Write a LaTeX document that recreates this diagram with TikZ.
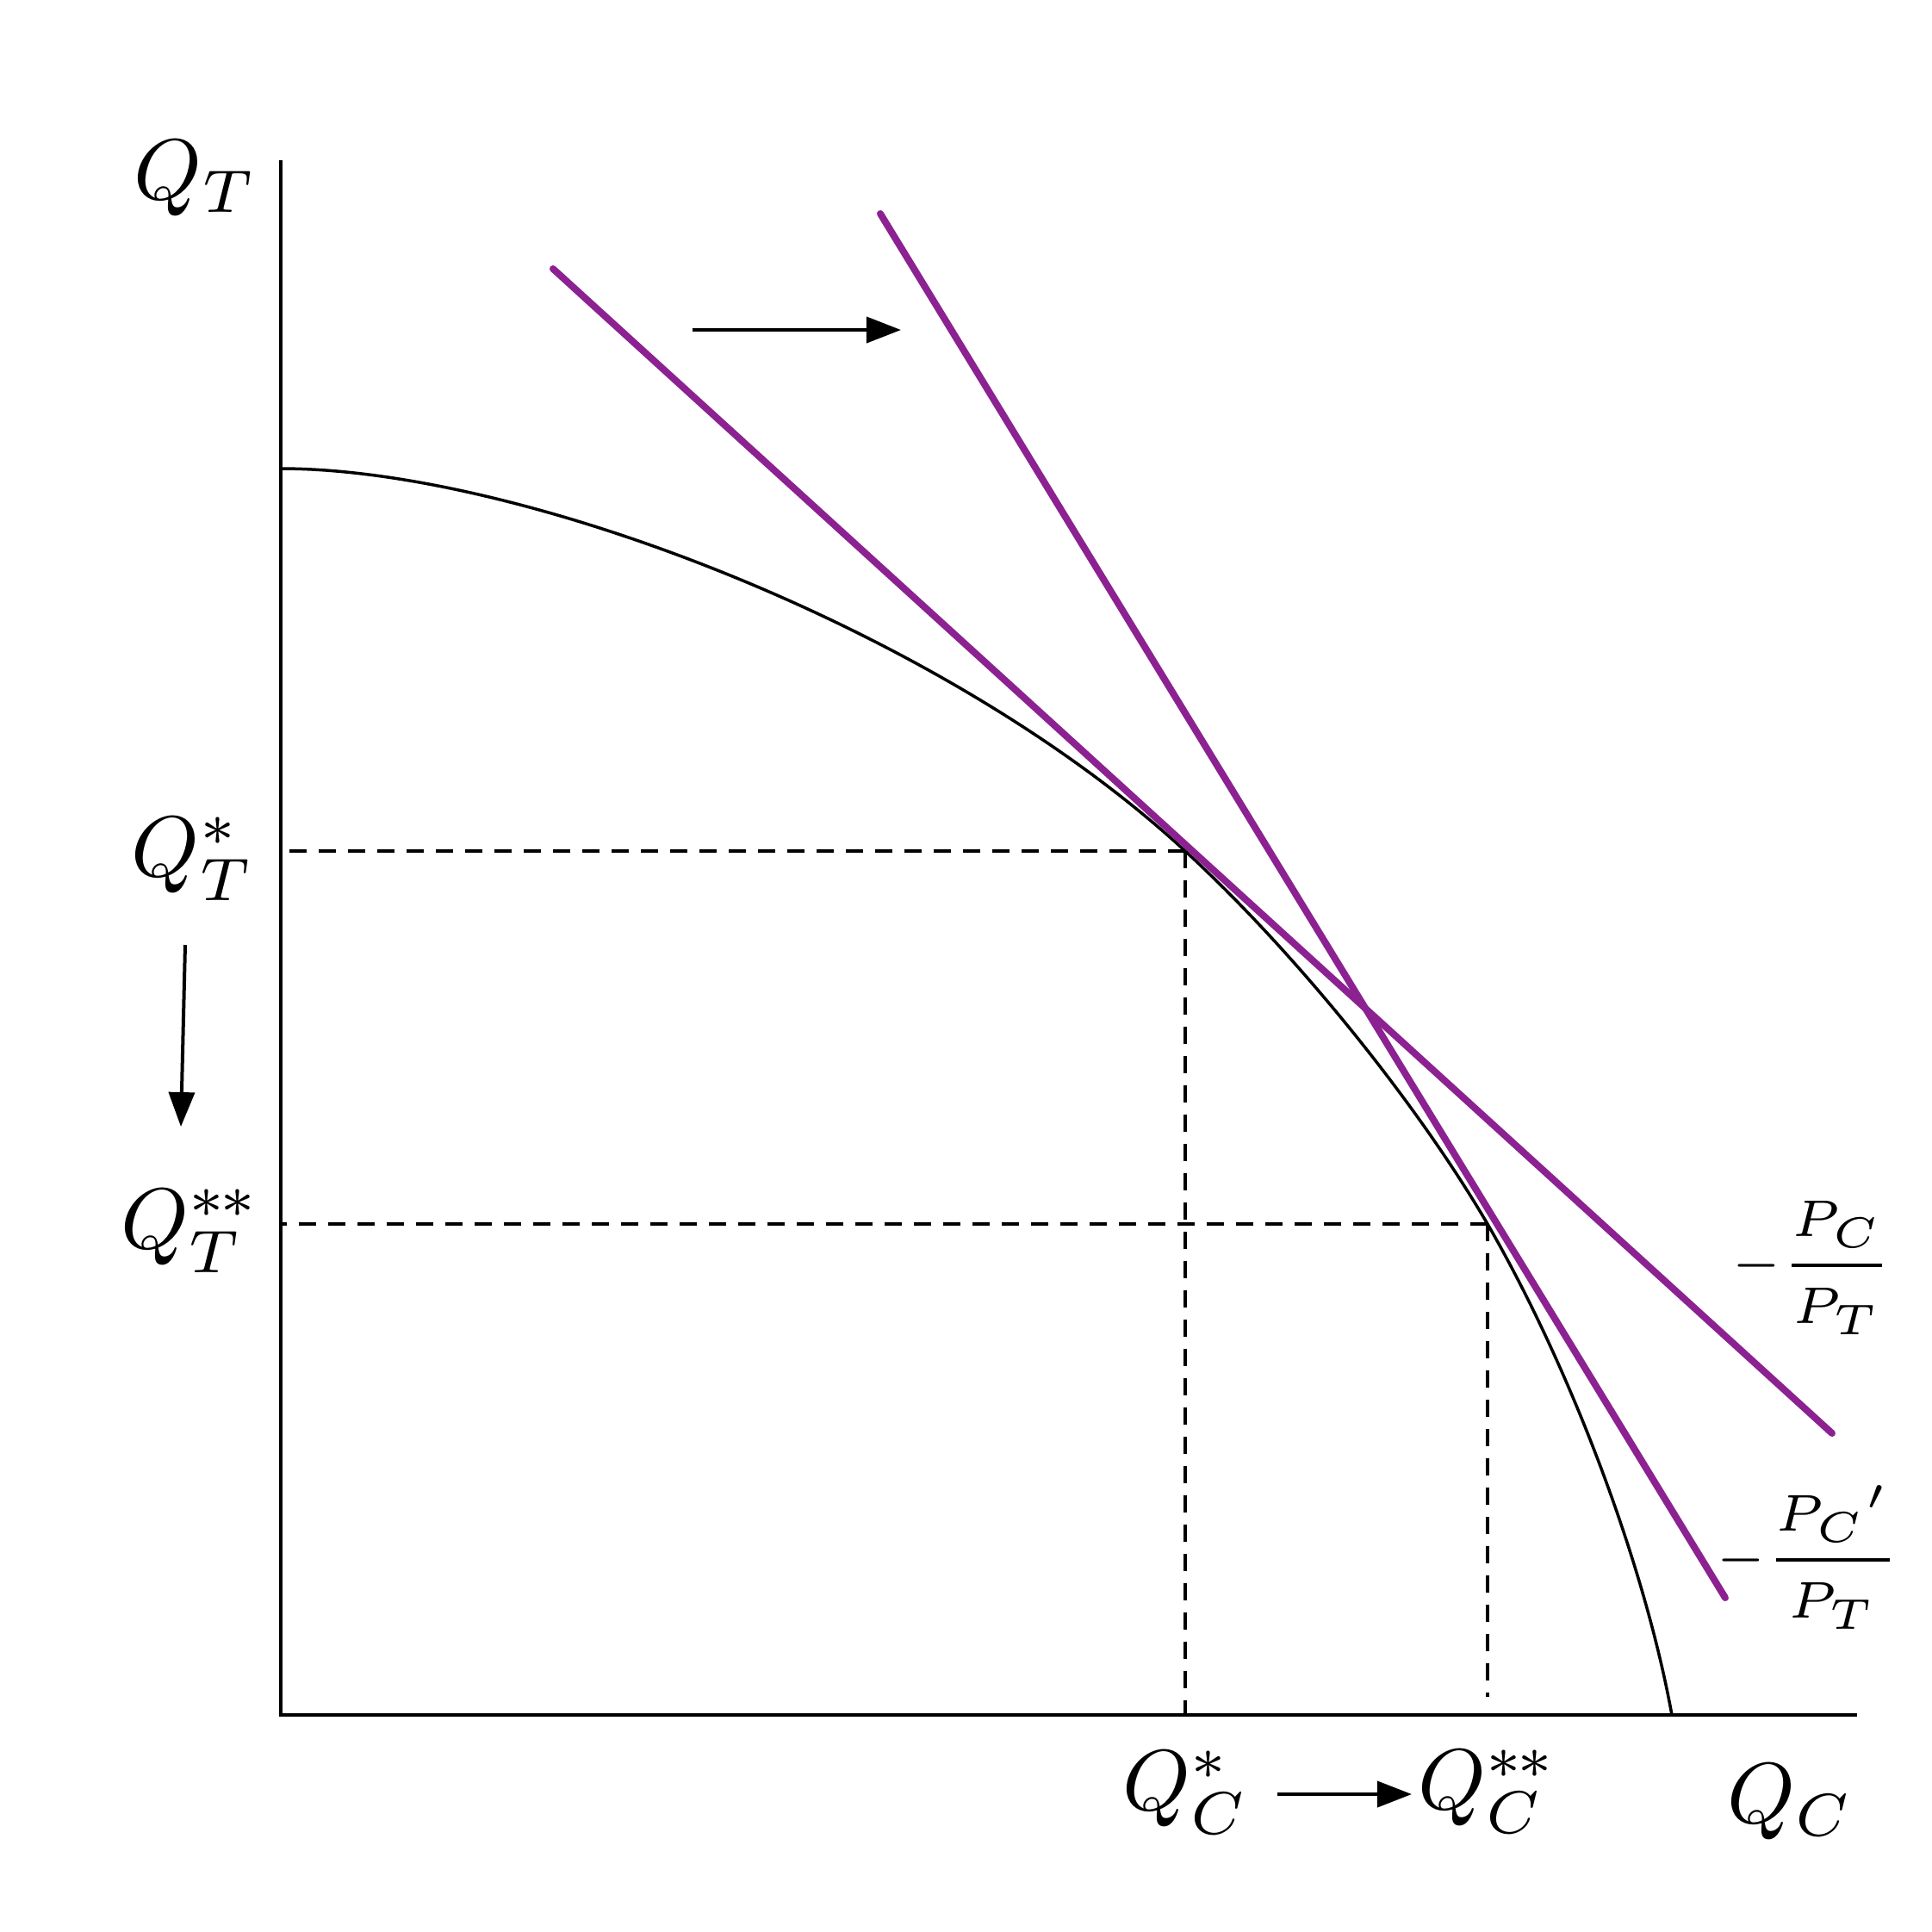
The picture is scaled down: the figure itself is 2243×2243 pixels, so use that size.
\documentclass[tikz,border=0pt]{standalone}
\usepackage{xcolor}
\definecolor{budget}{HTML}{8C2291}
\usepackage{tikz}
\usetikzlibrary{arrows.meta}

\begin{document}
\begin{tikzpicture}[x=0.1pt,y=-0.1pt,>={Triangle[length=4pt,width=3pt]},every node/.style={inner sep=0pt}]
\useasboundingbox (0,0) rectangle (2243,2243);
\tikzset{axis/.style={line width=0.4pt},ppf/.style={line width=0.35pt},guide/.style={line width=0.4pt,dash pattern=on 2pt off 1.4pt},priceline/.style={budget,line width=0.8pt,line cap=round},moveto/.style={->,line width=0.4pt},ratio/.style={font=\fontsize{5.8pt}{7pt}\selectfont}}
% axes
\coordinate (O) at (326,1991);
\coordinate (Ytop) at (326,186);
\coordinate (Xend) at (2156,1991);
\draw[axis] (Ytop) -- (O) -- (Xend);
\node (QT) at (227,207) {$Q_T$};
\node (QC) at (2079,2092) {$Q_C$};
% optimum points
\coordinate (A) at (326,544);
\coordinate (E1) at (1376,988);
\coordinate (E2) at (1727,1421);
\coordinate (B) at (1941,1991);
% frontier
\draw[ppf] (A) .. controls (604,544) and (1095,729) .. (E1) .. controls (1504,1106) and (1644,1279) .. (E2) .. controls (1823,1587) and (1909,1815) .. (B);
% price lines
\coordinate (L1a) at (642,312);
\coordinate (L1b) at (2127,1664);
\coordinate (L2a) at (1022,248);
\coordinate (L2b) at (2003,1855);
\draw[priceline] (L1a) -- (L1b);
\draw[priceline] (L2a) -- (L2b);
\node[ratio] (R1) at (2104,1472) {$\displaystyle -\frac{P_C}{P_T}$};
\node[ratio] (R2) at (2099,1808) {$\displaystyle -\frac{{P_C}'}{P_T}$};
% dashed guides
\draw[guide] (E1) -- (E1 -| O);
\draw[guide] (E1) -- (E1 |- O);
\draw[guide] (E2) -- (E2 -| O);
\draw[guide] (E2) -- (1727,1970);
\node (QTa) at (224,997) {$Q_T^{*}$};
\node (QTb) at (221,1429) {$Q_T^{*\mkern-1mu*}$};
\node (QCa) at (1377,2081) {$Q_C^{*}$};
\node (QCb) at (1727,2080) {$Q_C^{*\mkern-1mu*}$};
% shifts
\coordinate (S1a) at (804,383);
\coordinate (S1b) at (1046,383);
\coordinate (S2a) at (215,1097);
\coordinate (S2b) at (210,1308);
\coordinate (S3a) at (1483,2083);
\coordinate (S3b) at (1639,2083);
\draw[moveto] (S1a) -- (S1b);
\draw[moveto] (S2a) -- (S2b);
\draw[moveto] (S3a) -- (S3b);
\end{tikzpicture}
\end{document}
